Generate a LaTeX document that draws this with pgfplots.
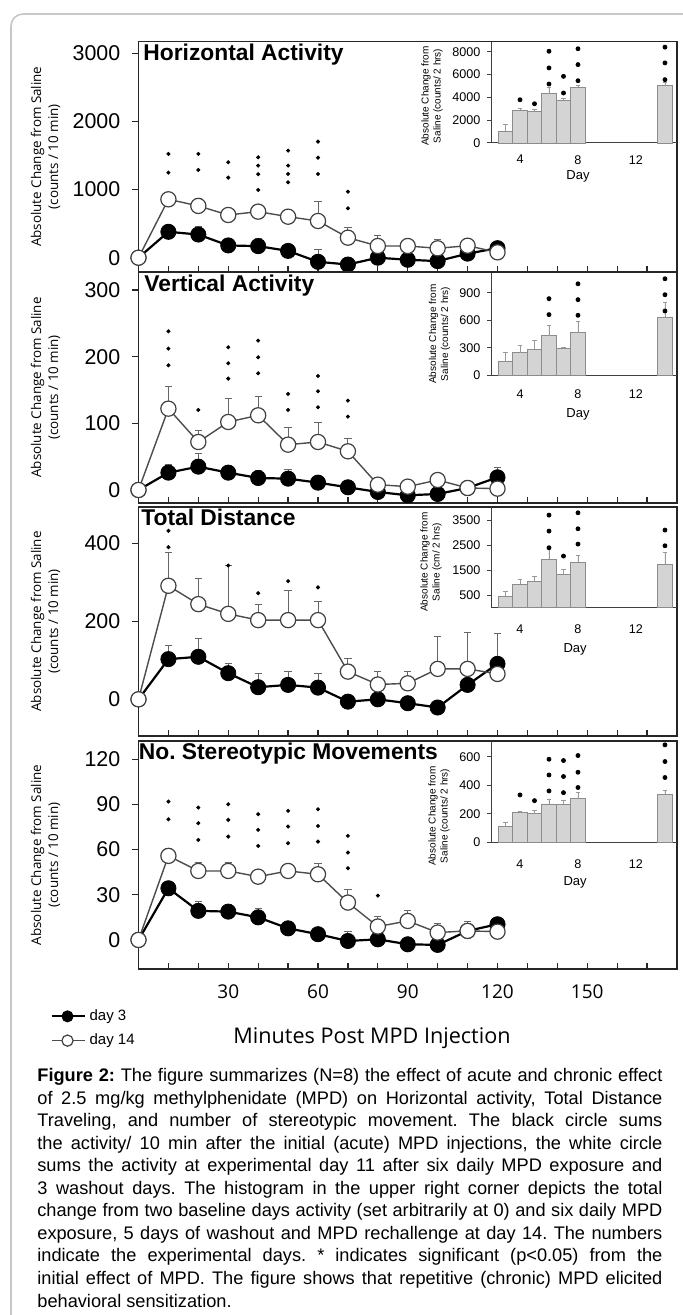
\documentclass[border=0pt]{standalone}
\usepackage{fontspec}
\setmainfont{Liberation Sans}
\newfontfamily\opensans{Open Sans}
\usepackage{pgfplots}
\pgfplotsset{compat=1.18}
\frenchspacing

\pgfplotsset{
  mainax/.style={scale only axis, width=269.25pt, xmin=0, xmax=180, clip=false,
    xtick={10,20,...,170}, xticklabels={}, tick pos=left,
    xtick align=inside, ytick align=outside, major tick length=3pt,
    axis line style={black!85, line width=0.6pt},
    tick style={black!85, line width=0.6pt},
    yticklabel style={font=\fontsize{10.7}{12}\selectfont, xshift=-2.6pt},
    /pgf/number format/assume math mode=true,
    /pgf/number format/set thousands separator={},
    ylabel style={font=\opensans\fontsize{6.7}{8.5}\selectfont, align=center,
      at={(axis description cs:-0.1727,0.5)}, anchor=center},
  },
  insetax/.style={scale only axis, width=93pt, xmin=2, xmax=14.83, ymin=0,
    axis x line*=bottom, axis y line*=left, clip=false,
    xtick={4,8,12}, x tick style={draw=none}, tick align=outside,
    major tick length=1.8pt,
    axis line style={black!75, line width=0.5pt},
    tick style={black!75, line width=0.5pt},
    xticklabel style={font=\fontsize{6.3}{7}\selectfont, yshift=-2pt},
    yticklabel style={font=\fontsize{6.3}{7}\selectfont},
    /pgf/number format/assume math mode=true,
    /pgf/number format/set thousands separator={},
    xlabel={Day},
    ylabel style={font=\fontsize{5}{6}\selectfont, align=center, anchor=center},
  },
  blk/.style={black, line width=1.1pt, mark=*, mark size=3.8pt,
    mark options={fill=black, draw=black, line width=0.4pt, solid},
    error bars/.cd, y dir=plus, y explicit,
    error bar style={black!60, line width=0.45pt},
    error mark options={rotate=90, mark size=1.8pt, black!60, line width=0.45pt}},
  wht/.style={black!70, line width=0.7pt, mark=*, mark size=3.8pt,
    mark options={fill=white, draw=black!75, line width=0.6pt, solid},
    error bars/.cd, y dir=plus, y explicit,
    error bar style={black!60, line width=0.45pt},
    error mark options={rotate=90, mark size=1.8pt, black!60, line width=0.45pt}},
  star/.style={only marks, mark=*, mark size=0.8pt, black, forget plot},
  istar/.style={only marks, mark=*, mark size=1pt, black, forget plot},
  bar/.style={ybar, bar width=1, bar shift=0pt, fill=black!17, draw=black!45,
    line width=0.4pt,
    error bars/.cd, y dir=plus, y explicit,
    error bar style={black!40, line width=0.4pt},
    error mark options={rotate=90, mark size=1.2pt, black!40}},
}

\begin{document}
\begin{tikzpicture}
\useasboundingbox (0,0) rectangle (341.5pt,657.5pt);
\begin{scope}
\clip (0,0) rectangle (341.5pt,657.5pt);
\draw[black!22, line width=0.8pt, rounded corners=6pt] (5.5pt,-30pt) rectangle (380pt,650.5pt);
\end{scope}

% ---------------- Panel 1: Horizontal activity
\begin{axis}[mainax, at={(69.25pt,521.65pt)}, anchor=south west, height=115pt,
  ymin=-205, ymax=3170, ytick={0,1000,2000,3000},
  ylabel={Absolute Change from Saline\\(counts / 10 min)}]
\addplot[blk] coordinates {(0,0) +- (0,0) (10,380) +- (0,60) (20,340) +- (0,115) (30,180) +- (0,60) (40,170) +- (0,115) (50,100) +- (0,90) (60,-60) +- (0,180) (70,-100) +- (0,40) (80,0) +- (0,40) (90,-30) +- (0,40) (100,-50) +- (0,40) (110,60) +- (0,40) (120,140) +- (0,30)};
\addplot[wht] coordinates {(0,0) +- (0,0) (10,857) +- (0,60) (20,760) +- (0,110) (30,627) +- (0,100) (40,676) +- (0,60) (50,602) +- (0,60) (60,539) +- (0,280) (70,294) +- (0,150) (80,172) +- (0,160) (90,172) +- (0,100) (100,138) +- (0,130) (110,176) +- (0,90) (120,79) +- (0,0)};
\addplot[star] coordinates {(10,1523) (10,1248) (20,1523) (20,1288) (30,1401) (30,1175) (40,1474) (40,1351) (40,1225) (40,994) (50,1571) (50,1351) (50,1229) (50,1107) (60,1703) (60,1468) (60,1229) (70,969) (70,725)};
\node[anchor=west, inner sep=0pt, font=\bfseries\fontsize{11.4}{13}\selectfont] at (axis description cs:0.0084,0.945) {Horizontal Activity};
\end{axis}
\begin{axis}[insetax, at={(245.5pt,586pt)}, anchor=south west, height=50.65pt,
  ymax=8880, ytick={0,2000,4000,6000,8000},
  xticklabel style={yshift=1.2pt},
  xlabel style={at={(axis description cs:0.468,-0.33)}, anchor=center, font=\fontsize{6.5}{7}\selectfont},
  ylabel={Absolute Change from\\Saline (counts/ 2 hrs)},
  ylabel style={at={(axis description cs:-0.317,0.464)}}]
\addplot[bar] coordinates {(3,1050) +- (0,620) (4,2850) +- (0,200) (5,2760) +- (0,200) (6,4320) +- (0,580) (7,3730) +- (0,150) (8,4900) +- (0,150) (14,5020) +- (0,270)};
\addplot[istar] coordinates {(4,3790) (5,3440) (6,5170) (6,6580) (6,8040) (7,4380) (7,5840) (8,5460) (8,6870) (8,8260) (14,5550) (14,7020) (14,8400)};
\end{axis}

% ---------------- Panel 2: Vertical activity
\begin{axis}[mainax, at={(69.25pt,406pt)}, anchor=south west, height=115.5pt,
  ymin=-19.5, ymax=327, ytick={0,100,200,300},
  ylabel={Absolute Change from Saline\\(counts / 10 min)}]
\addplot[blk] coordinates {(0,0) +- (0,0) (10,26) +- (0,12) (20,35) +- (0,20) (30,26) +- (0,8) (40,18) +- (0,12) (50,17) +- (0,14) (60,11) +- (0,5) (70,4) +- (0,4) (80,-3) +- (0,3) (90,-8) +- (0,3) (100,-6) +- (0,3) (110,3) +- (0,3) (120,19) +- (0,15)};
\addplot[wht] coordinates {(0,0) +- (0,0) (10,122) +- (0,34) (20,72) +- (0,18) (30,102) +- (0,36) (40,112) +- (0,29) (50,68) +- (0,26) (60,72) +- (0,30) (70,58) +- (0,20) (80,8) +- (0,8) (90,5) +- (0,5) (100,15) +- (0,10) (110,3) +- (0,3) (120,2) +- (0,0)};
\addplot[star] coordinates {(10,238) (10,212) (10,187) (20,120) (30,214) (30,190) (30,167) (40,224) (40,199) (40,175) (50,144) (50,120) (60,171) (60,148) (60,124) (70,134) (70,110)};
\node[anchor=west, inner sep=0pt, font=\bfseries\fontsize{11.4}{13}\selectfont] at (axis description cs:0.0102,0.94) {Vertical Activity};
\end{axis}
\begin{axis}[insetax, at={(245.5pt,469.85pt)}, anchor=south west, height=51.15pt,
  ymax=1115, ytick={0,300,600,900},
  xlabel style={at={(axis description cs:0.468,-0.38)}, anchor=center, font=\fontsize{6.5}{7}\selectfont},
  ylabel={Absolute Change from\\Saline (counts/ 2 hrs)},
  ylabel style={at={(axis description cs:-0.277,0.404)}}]
\addplot[bar] coordinates {(3,148) +- (0,98) (4,246) +- (0,83) (5,282) +- (0,94) (6,430) +- (0,116) (7,293) +- (0,10) (8,466) +- (0,116) (14,636) +- (0,155)};
\addplot[istar] coordinates {(6,661) (6,835) (8,654) (8,824) (8,997) (14,701) (14,878) (14,1052)};
\end{axis}

% ---------------- Panel 3: Total distance
\begin{axis}[mainax, at={(69.25pt,289.5pt)}, anchor=south west, height=114.5pt,
  ymin=-94, ymax=493, ytick={0,200,400},
  ylabel={Absolute Change from Saline\\(counts / 10 min)}]
\addplot[blk] coordinates {(0,0) +- (0,0) (10,103) +- (0,36) (20,109) +- (0,47) (30,67) +- (0,25) (40,31) +- (0,36) (50,37) +- (0,34) (60,30) +- (0,37) (70,-6) +- (0,5) (80,0) +- (0,5) (90,-10) +- (0,5) (100,-21) +- (0,5) (110,37) +- (0,5) (120,91) +- (0,77)};
\addplot[wht] coordinates {(0,0) +- (0,0) (10,291) +- (0,85) (20,244) +- (0,66) (30,219) +- (0,123) (40,203) +- (0,39) (50,203) +- (0,75) (60,203) +- (0,47) (70,71) +- (0,34) (80,38) +- (0,33) (90,41) +- (0,30) (100,78) +- (0,84) (110,78) +- (0,93) (120,65) +- (0,0)};
\addplot[star] coordinates {(10,432) (10,390) (30,343) (40,272) (50,303) (60,287)};
\node[anchor=west, inner sep=0pt, font=\bfseries\fontsize{11.4}{13}\selectfont] at (axis description cs:0.0046,0.955) {Total Distance};
\end{axis}
\begin{axis}[insetax, at={(245.5pt,353.65pt)}, anchor=south west, height=50.35pt,
  ymax=4049, ytick={500,1500,2500,3500},
  xticklabel style={yshift=-1.2pt},
  xlabel style={at={(axis description cs:0.452,-0.41)}, anchor=center, font=\fontsize{6.5}{7}\selectfont},
  ylabel={Absolute Change from\\Saline (cm/ 2 hrs)},
  ylabel style={at={(axis description cs:-0.323,0.454)}}]
\addplot[bar] coordinates {(3,469) +- (0,174) (4,951) +- (0,187) (5,1071) +- (0,201) (6,1955) +- (0,428) (7,1339) +- (0,201) (8,1821) +- (0,295) (14,1741) +- (0,469)};
\addplot[istar] coordinates {(6,2410) (6,3080) (6,3722) (7,2075) (8,2557) (8,3173) (8,3816) (14,2490) (14,3120)};
\end{axis}

% ---------------- Panel 4: Stereotypic movements
\begin{axis}[mainax, at={(69.25pt,173pt)}, anchor=south west, height=114pt,
  ymin=-19.3, ymax=132.1, ytick={0,30,60,90,120},
  xticklabels={,,30,,,60,,,90,,,120,,,150,,},
  xticklabel style={font=\opensans\fontsize{9.5}{11}\selectfont, yshift=-4.5pt},
  ylabel={Absolute Change from Saline\\(counts / 10 min)},
  xlabel={Minutes Post MPD Injection},
  xlabel style={font=\opensans\fontsize{10.8}{12}\selectfont, at={(axis description cs:0.4336,-0.3026)}, anchor=center},
  legend style={draw=none, fill=none, at={(axis description cs:-0.1643,-0.158)}, anchor=north west,
    font=\fontsize{7.5}{9}\selectfont, inner sep=0pt, row sep=1.2pt},
  legend cell align=left,
  legend image code/.code={\draw[mark repeat=2, mark phase=2, #1, mark size=2.8pt] plot coordinates {(0pt,0pt) (8pt,0pt) (16.5pt,0pt)};}]
\addplot[blk] coordinates {(0,0) +- (0,0) (10,34.3) +- (0,3) (20,19.3) +- (0,6) (30,18.8) +- (0,4) (40,15) +- (0,6) (50,7.7) +- (0,3) (60,3.8) +- (0,3) (70,-0.7) +- (0,6) (80,0.4) +- (0,3) (90,-2.9) +- (0,2) (100,-3.3) +- (0,2) (110,6) +- (0,2) (120,10.4) +- (0,2)};
\addlegendentry{day 3}
\addplot[wht] coordinates {(0,0) +- (0,0) (10,55.8) +- (0,5) (20,45.8) +- (0,5.6) (30,45.8) +- (0,5.6) (40,42) +- (0,4.5) (50,45.8) +- (0,4) (60,43.6) +- (0,6.9) (70,24.8) +- (0,8.4) (80,8.9) +- (0,6.6) (90,12.6) +- (0,7.3) (100,4.9) +- (0,6.1) (110,6) +- (0,6.2) (120,5.5) +- (0,0)};
\addlegendentry{day 14}
\addplot[star] coordinates {(10,91.9) (10,80.1) (20,87.9) (20,77.5) (20,66.4) (30,90.1) (30,79.7) (30,68.6) (40,83.5) (40,73.1) (40,62.4) (50,85.7) (50,75.3) (50,64.2) (60,86.8) (60,75.7) (60,65.3) (70,69.1) (70,58) (70,47.6) (80,29.4)};
\node[anchor=west, inner sep=0pt, font=\bfseries\fontsize{11.4}{13}\selectfont] at (axis description cs:0,0.945) {No. Stereotypic Movements};
\end{axis}
\begin{axis}[insetax, at={(245.5pt,236.35pt)}, anchor=south west, height=50.65pt,
  ymax=710, ytick={0,200,400,600},
  xticklabel style={yshift=-1.2pt},
  xlabel style={at={(axis description cs:0.452,-0.40)}, anchor=center, font=\fontsize{6.5}{7}\selectfont},
  ylabel={Absolute Change from\\Saline (counts/ 2 hrs)},
  ylabel style={at={(axis description cs:-0.28,0.26)}}]
\addplot[bar] coordinates {(3,110) +- (0,30) (4,208) +- (0,7) (5,199) +- (0,23) (6,269) +- (0,33) (7,267) +- (0,25) (8,306) +- (0,42) (14,337) +- (0,30)};
\addplot[istar] coordinates {(4,332) (5,292) (6,360) (6,472) (6,582) (7,348) (7,461) (7,573) (8,384) (8,491) (8,608) (14,454) (14,566) (14,683)};
\end{axis}

% ---------------- Caption
\node[anchor=base west, inner sep=0pt, font=\fontsize{9.1}{11.25}\selectfont] at (18.5pt,4pt) {\vbox{\baselineskip=11.25pt
\hbox to 312.5pt{\textbf{Figure 2:} The figure summarizes (N=8) the effect of acute and chronic effect}
\hbox to 312.5pt{of 2.5 mg/kg methylphenidate (MPD) on Horizontal activity, Total Distance}
\hbox to 312.5pt{Traveling, and number of stereotypic movement. The black circle sums}
\hbox to 312.5pt{the activity/ 10 min after the initial (acute) MPD injections, the white circle}
\hbox to 312.5pt{sums the activity at experimental day 11 after six daily MPD exposure and}
\hbox to 312.5pt{3 washout days. The histogram in the upper right corner depicts the total}
\hbox to 312.5pt{change from two baseline days activity (set arbitrarily at 0) and six daily MPD}
\hbox to 312.5pt{exposure, 5 days of washout and MPD rechallenge at day 14. The numbers}
\hbox to 312.5pt{indicate the experimental days. * indicates significant (p<0.05) from the}
\hbox to 312.5pt{initial effect of MPD. The figure shows that repetitive (chronic) MPD elicited}
\hbox{behavioral sensitization.}}};
\end{tikzpicture}
\end{document}
